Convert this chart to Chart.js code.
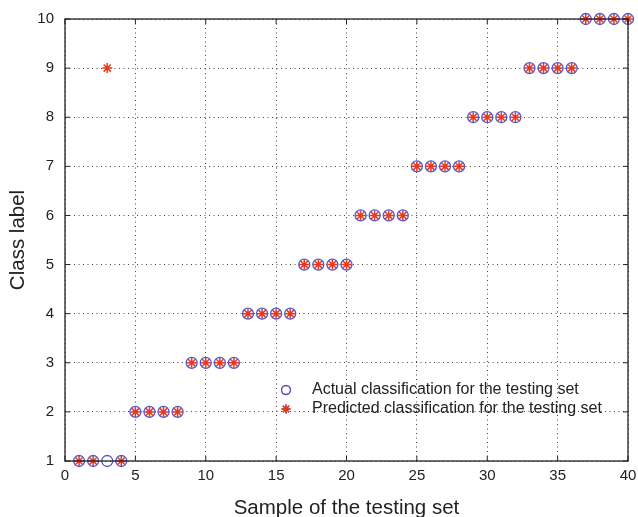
<!DOCTYPE html>
<html>
<head>
<meta charset="utf-8">
<script src="https://cdn.jsdelivr.net/npm/chart.js@4.4.1/dist/chart.umd.min.js"></script>
<style>
  html, body { margin: 0; padding: 0; background: #fff; }
  #wrap { width: 638px; height: 517px; }
</style>
</head>
<body>
<div id="wrap"><canvas id="grafico" width="638" height="517"></canvas></div>
<script>
// datos
const muestras = [1,2,3,4,5,6,7,8,9,10,11,12,13,14,15,16,17,18,19,20,
                  21,22,23,24,25,26,27,28,29,30,31,32,33,34,35,36,37,38,39,40];
const claseReal = [1,1,1,1,2,2,2,2,3,3,3,3,4,4,4,4,5,5,5,5,
                   6,6,6,6,7,7,7,7,8,8,8,8,9,9,9,9,10,10,10,10];
const clasePredicha = [1,1,9,1,2,2,2,2,3,3,3,3,4,4,4,4,5,5,5,5,
                       6,6,6,6,7,7,7,7,8,8,8,8,9,9,9,9,10,10,10,10];
const etiquetas = ['Actual classification for the testing set',
                   'Predicted classification for the testing set'];

const azul = '#5656c6';
const rojo = '#e8381e';
const fuente = '"Liberation Sans", Arial, sans-serif';

const puntos = (ys) => muestras.map((x, i) => ({ x: x, y: ys[i] }));

// marco y leyenda dentro del area
const marcoLeyenda = {
  id: 'marcoLeyenda',
  afterDraw(chart) {
    const c = chart.ctx;
    const a = chart.chartArea;
    c.save();
    c.strokeStyle = '#222';
    c.lineWidth = 1.3;
    c.strokeRect(a.left, a.top, a.right - a.left, a.bottom - a.top);

    // marcas de ticks hacia dentro
    c.lineWidth = 1;
    const xs = chart.scales.x, ys = chart.scales.y;
    xs.ticks.forEach(t => {
      const px = xs.getPixelForValue(t.value);
      c.beginPath();
      c.moveTo(px, a.bottom); c.lineTo(px, a.bottom - 5);
      c.moveTo(px, a.top); c.lineTo(px, a.top + 5);
      c.stroke();
    });
    ys.ticks.forEach(t => {
      const py = ys.getPixelForValue(t.value);
      c.beginPath();
      c.moveTo(a.left, py); c.lineTo(a.left + 5, py);
      c.moveTo(a.right, py); c.lineTo(a.right - 5, py);
      c.stroke();
    });

    // leyenda
    const lx = 286, ly = [390, 409];
    chart.data.datasets.forEach((ds, i) => {
      Chart.helpers.drawPoint(c, {
        pointStyle: ds.pointStyle,
        radius: 4.5,
        borderWidth: ds.borderWidth
      }, lx, ly[i]);
      c.strokeStyle = ds.borderColor;
      c.lineWidth = ds.borderWidth;
      c.stroke();
      c.fillStyle = '#222';
      c.font = '16px ' + fuente;
      c.textBaseline = 'middle';
      c.fillText(etiquetas[i], 312, ly[i]);
    });
    c.restore();
  }
};

const ctx = document.getElementById('grafico').getContext('2d');
const grafico = new Chart(ctx, {
  type: 'scatter',
  data: {
    datasets: [
      {
        label: etiquetas[0],
        data: puntos(claseReal),
        pointStyle: 'circle',
        pointRadius: 5.5,
        borderColor: azul,
        backgroundColor: 'rgba(0,0,0,0)',
        borderWidth: 1.3,
        clip: false
      },
      {
        label: etiquetas[1],
        data: puntos(clasePredicha),
        pointStyle: 'star',
        pointRadius: 5,
        borderColor: rojo,
        backgroundColor: rojo,
        borderWidth: 1.5,
        clip: false
      }
    ]
  },
  options: {
    responsive: false,
    animation: false,
    layout: { padding: { top: 19, right: 10, left: 0, bottom: 0 } },
    plugins: { legend: { display: false }, tooltip: { enabled: false } },
    scales: {
      x: {
        type: 'linear',
        min: 0, max: 40,
        ticks: { stepSize: 5, color: '#222', font: { family: fuente, size: 15 }, padding: 6, maxRotation: 0 },
        grid: { color: '#444', lineWidth: 1, drawTicks: false },
        border: { display: false, dash: [1, 3.5] },
        title: { display: true, text: 'Sample of the testing set', color: '#222',
                 font: { family: fuente, size: 20.5, lineHeight: 0.8 }, padding: { top: 0, bottom: 0 } },
        afterFit(scale) { scale.height = 56; scale.paddingRight = 0; scale.paddingLeft = 0; }
      },
      y: {
        type: 'linear',
        min: 1, max: 10,
        ticks: { stepSize: 1, color: '#222', font: { family: fuente, size: 15 }, padding: 11 },
        grid: { color: '#444', lineWidth: 1, drawTicks: false },
        border: { display: false, dash: [1, 3.5] },
        title: { display: true, text: 'Class label', color: '#222',
                 font: { family: fuente, size: 20.5 }, padding: { top: 6.5, bottom: 0 } },
        afterFit(scale) { scale.width = 65; scale.paddingTop = 0; scale.paddingBottom = 0; }
      }
    }
  },
  plugins: [marcoLeyenda]
});
</script>
</body>
</html>
